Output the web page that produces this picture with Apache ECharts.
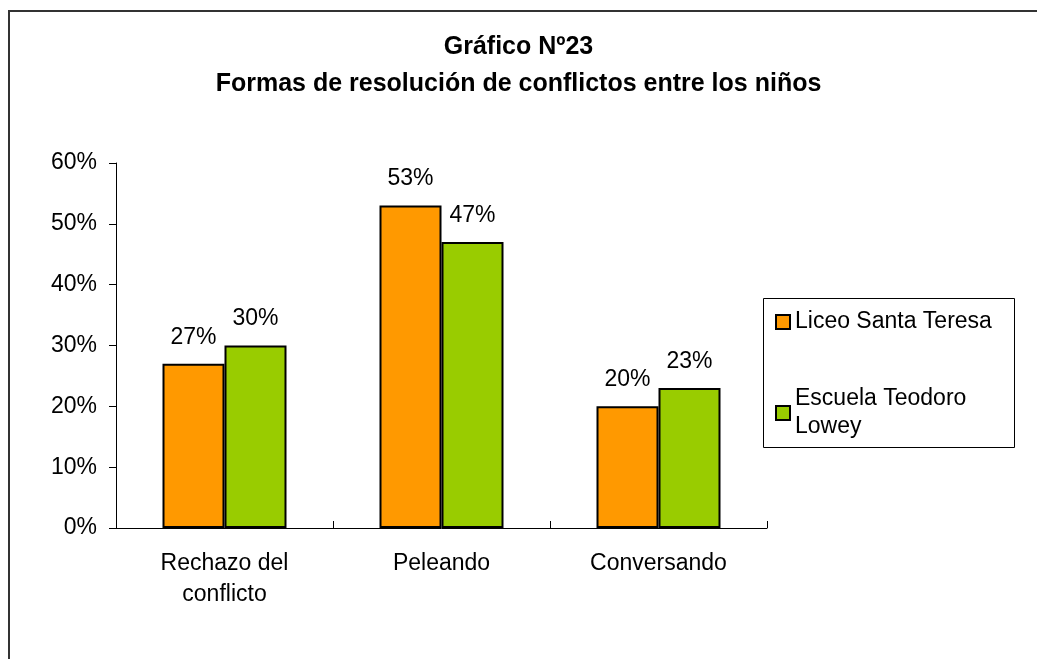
<!DOCTYPE html>
<html>
<head>
<meta charset="utf-8">
<script src="https://cdn.jsdelivr.net/npm/echarts@6/dist/echarts.min.js"></script>
<style>
  html, body { margin: 0; padding: 0; background: #fff; }
  #main { width: 1037px; height: 659px; }
</style>
</head>
<body>
<div id="main"></div>
<script>
// datos del gráfico
var categorias = ['Rechazo del\nconflicto', 'Peleando', 'Conversando'];
var liceoSantaTeresa = [27, 53, 20];
var escuelaTeodoroLowey = [30, 47, 23];
var nombresSeries = ['Liceo Santa Teresa', 'Escuela Teodoro\nLowey'];
var coloresBarras = ['#FF9900', '#99CC00'];

var fuente = 'Arial, "Liberation Sans", sans-serif';

var myChart = echarts.init(document.getElementById('main'));

function serieBarra(nombre, datos, color) {
    return {
        name: nombre,
        type: 'bar',
        data: datos,
        barWidth: 62,
        barGap: '0%',
        itemStyle: {
            color: color,
            borderColor: '#000',
            borderWidth: 2
        },
        label: {
            show: true,
            position: 'top',
            distance: 15,
            formatter: '{c}%',
            color: '#000',
            fontFamily: fuente,
            fontSize: 23
        }
    };
}

var option = {
    animation: false,
    backgroundColor: '#fff',
    title: {
        text: 'Gráfico Nº23\nFormas de resolución de conflictos entre los niños',
        left: 'center',
        top: 29,
        padding: [0, 0, 0, 13],
        textStyle: {
            fontFamily: fuente,
            fontSize: 25,
            fontWeight: 'bold',
            color: '#000',
            lineHeight: 37
        }
    },
    graphic: [
        { // marco exterior
            type: 'rect',
            shape: { x: 9, y: 11, width: 1200, height: 1000 },
            style: { fill: 'none', stroke: '#333', lineWidth: 2 },
            silent: true
        },
        { // caja de la leyenda
            type: 'rect',
            shape: { x: 763.5, y: 298.5, width: 251, height: 149 },
            style: { fill: 'none', stroke: '#000', lineWidth: 1 },
            silent: true
        }
    ],
    legend: {
        orient: 'vertical',
        left: 775,
        top: 308,
        padding: 0,
        itemGap: 35,
        itemWidth: 14,
        itemHeight: 14,
        itemTextGap: 9,
        icon: 'rect',
        data: [
            { name: nombresSeries[0] },
            { name: nombresSeries[1], textStyle: { padding: [28, 0, 0, 0] } }
        ],
        textStyle: {
            fontFamily: fuente,
            fontSize: 23,
            lineHeight: 28,
            color: '#000'
        }
    },
    grid: {
        left: 116,
        right: 270,
        top: 163,
        bottom: 131,
        containLabel: false
    },
    xAxis: {
        type: 'category',
        data: categorias,
        axisLine: { show: true, lineStyle: { color: '#000', width: 1 } },
        axisTick: { show: true, inside: true, length: 7, lineStyle: { color: '#000' } },
        axisLabel: {
            margin: 20,
            fontFamily: fuente,
            fontSize: 23,
            lineHeight: 31,
            color: '#000'
        },
        splitLine: { show: false }
    },
    yAxis: {
        type: 'value',
        min: 0,
        max: 60,
        interval: 10,
        axisLine: { show: true, lineStyle: { color: '#000', width: 1 } },
        axisTick: { show: true, length: 7, lineStyle: { color: '#000' } },
        axisLabel: {
            formatter: '{value}%',
            margin: 19,
            fontFamily: fuente,
            fontSize: 23,
            color: '#000'
        },
        splitLine: { show: false }
    },
    series: [
        serieBarra(nombresSeries[0], liceoSantaTeresa, coloresBarras[0]),
        serieBarra(nombresSeries[1], escuelaTeodoroLowey, coloresBarras[1])
    ]
};

myChart.setOption(option);
</script>
</body>
</html>
